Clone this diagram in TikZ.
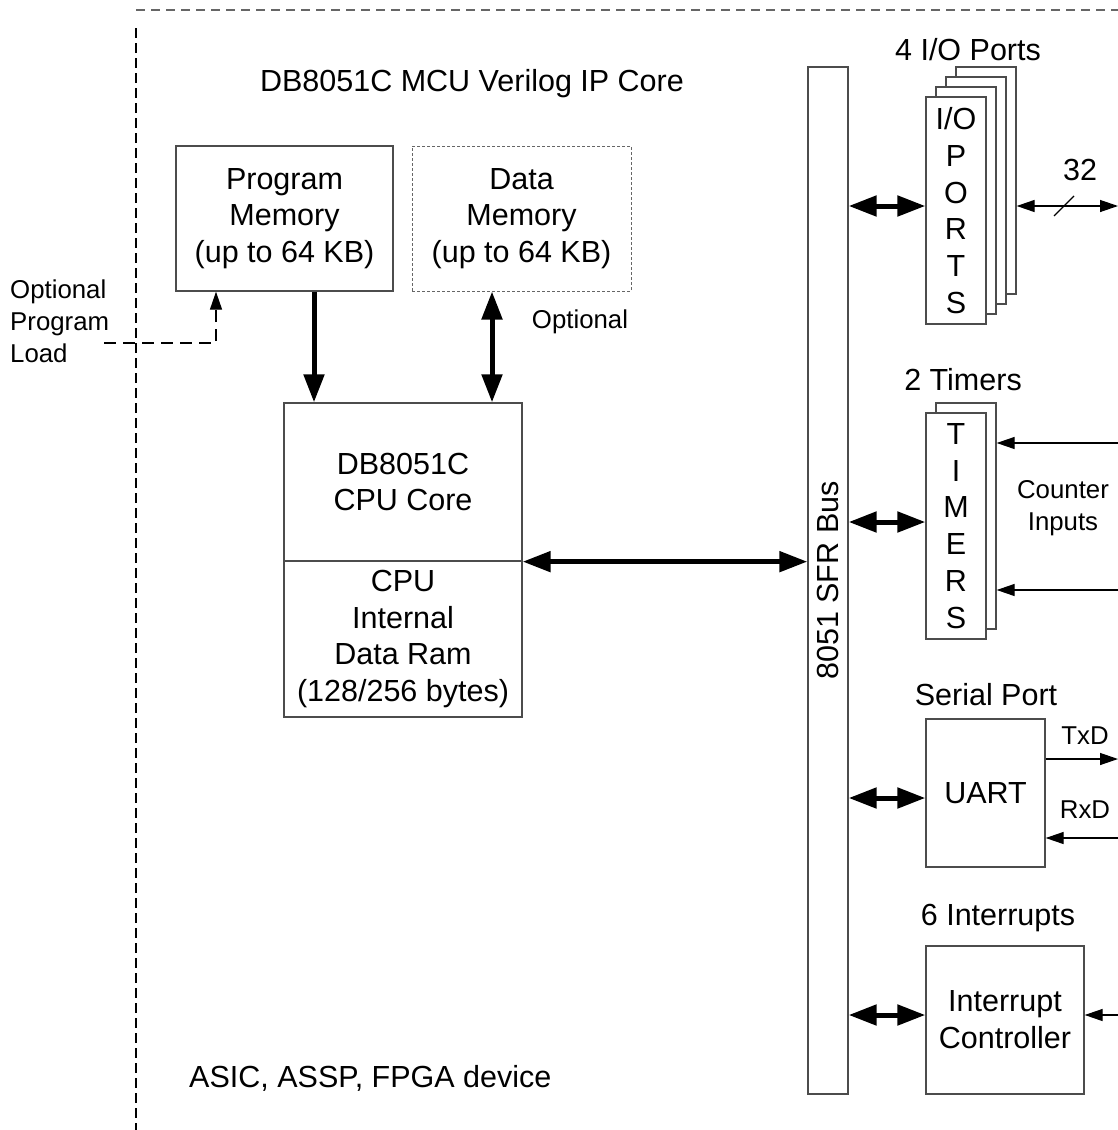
\documentclass[tikz,border=0pt]{standalone}
\usepackage{fontspec}
\setmainfont{Liberation Sans}
\usetikzlibrary{arrows.meta}
\newcommand\boxfont{\fontsize{30.5}{36.8}\selectfont}
\newcommand\notefont{\fontsize{25.8}{32}\selectfont}

\begin{document}
\begin{tikzpicture}[x=1pt,y=-1pt,
    box/.style={draw=black!70,line width=1.3pt,fill=white,inner sep=0pt,align=center,font=\boxfont},
    head/.style={inner sep=0pt,font=\boxfont},
    note/.style={inner sep=0pt,font=\notefont},
    busarrow/.style={line width=5pt,>={Triangle[length=28pt,width=20pt]}},
    wire/.style={line width=1.3pt,>={Triangle[length=18pt,width=12pt]}}]
    \useasboundingbox (0,0) rectangle (1118,1130);
    % device border
    \draw[black!60,line width=1.3pt,dash pattern=on 9pt off 6pt] (136,10) -- (1118,10);
    \draw[line width=1.3pt,dash pattern=on 10pt off 5pt] (136,28) -- (136,1130);
    \node[head] (title) at (472,84) {DB8051C MCU Verilog IP Core};
    \node[head,anchor=west] (device) at (189,1078) {ASIC, ASSP, FPGA device};
    % memories and cpu
    \node[box,minimum width=217pt,minimum height=145pt] (pmem) at (284.5,218.5) {Program\\Memory\\(up to 64 KB)};
    \node[box,draw=black!60,line width=1pt,dash pattern=on 3pt off 2pt,minimum width=219pt,minimum height=145pt] (dmem) at (521.5,218.5) {Data\\Memory\\(up to 64 KB)};
    \node[box,minimum width=238pt,minimum height=158pt] (cpucore) at (403,482) {DB8051C\\CPU Core};
    \node[box,minimum width=238pt,minimum height=156pt] (cpuram) at (403,639) {CPU\\Internal\\Data Ram\\(128/256 bytes)};
    \node[note,align=left,anchor=west] (loadname) at (10,321) {Optional\\Program\\Load};
    \node[note] (optname) at (580,322) {Optional};
    \coordinate (load) at (104,343);
    \draw[wire,->,dash pattern=on 12pt off 7pt] (load) -| ([xshift=-68.5pt]pmem.south);
    \draw[busarrow,->] ([xshift=29.5pt]pmem.south) -- ([xshift=29.5pt]pmem.south |- cpucore.north);
    \draw[busarrow,<->] ([xshift=-29.5pt]dmem.south) -- ([xshift=-29.5pt]dmem.south |- cpucore.north);
    % sfr bus
    \node[box,minimum width=40pt,minimum height=1027pt] (bus) at (828,580.5) {};
    \node[head,rotate=90] (busname) at (bus.center) {8051 SFR Bus};
    \draw[busarrow,<->] (cpucore.south east) -- (cpucore.south east -| bus.west);
    % i/o ports
    \node[head] (portsname) at (968,50) {4 I/O Ports};
    \foreach \k in {3,2,1}
        \node[box,minimum width=60pt,minimum height=227pt] (port\k) at ({956+10*\k},{210.5-10*\k}) {};
    \node[box,minimum width=60pt,minimum height=227pt] (port0) at (956,210.5) {I/O\\P\\O\\R\\T\\S};
    \coordinate (pio) at (1118,206);
    \draw[busarrow,<->] (bus.east |- pio) -- (port0.west |- pio);
    \draw[wire,<->] (port3.east |- pio) -- (pio);
    \draw[line width=1.3pt] (1054,216) -- (1074,196);
    \node[head] (buswidth) at (1080,170) {32};
    % timers
    \node[head] (timersname) at (963,380) {2 Timers};
    \node[box,minimum width=60pt,minimum height=226pt] (timer1) at (966,516) {};
    \node[box,minimum width=60pt,minimum height=226pt] (timer0) at (956,526) {T\\I\\M\\E\\R\\S};
    \draw[busarrow,<->] ([yshift=4pt]bus.east |- timer0.west) -- ([yshift=4pt]timer0.west);
    \coordinate (cnt1) at (1118,443);
    \coordinate (cnt2) at (1118,590);
    \draw[wire,->] (cnt1) -- (cnt1 -| timer1.east);
    \draw[wire,->] (cnt2) -- (cnt2 -| timer1.east);
    \node[note,align=center] (cntname) at (1063,508) {Counter\\Inputs};
    % serial port
    \node[head] (serialname) at (986,695) {Serial Port};
    \node[box,minimum width=119pt,minimum height=148pt] (uart) at (985.5,793) {UART};
    \draw[busarrow,<->] ([yshift=-5pt]bus.east |- uart.west) -- ([yshift=-5pt]uart.west);
    \coordinate (txd) at (1118,759);
    \coordinate (rxd) at (1118,838);
    \draw[wire,->] (txd -| uart.east) -- (txd);
    \draw[wire,->] (rxd) -- (rxd -| uart.east);
    \node[note] (txname) at (1085,736) {TxD};
    \node[note] (rxname) at (1085,810) {RxD};
    % interrupts
    \node[head] (intname) at (998,918) {6 Interrupts};
    \node[box,minimum width=158pt,minimum height=148pt] (intc) at (1005,1020) {Interrupt\\Controller};
    \draw[busarrow,<->] ([yshift=5pt]bus.east |- intc.west) -- ([yshift=5pt]intc.west);
    \coordinate (irq) at (1118,1015);
    \draw[wire,->] (irq) -- (irq -| intc.east);
\end{tikzpicture}
\end{document}
